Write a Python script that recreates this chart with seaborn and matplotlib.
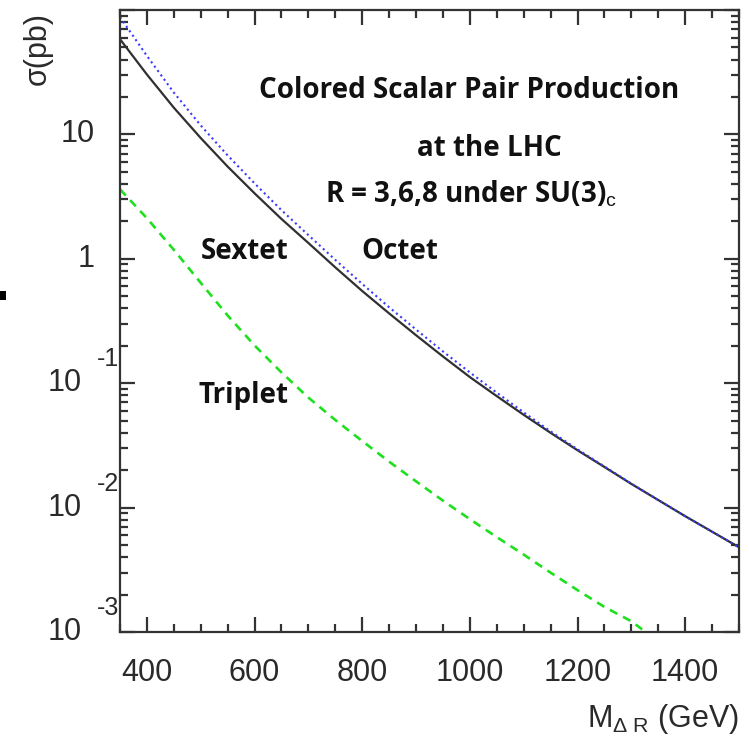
import numpy as np
import pandas as pd
import matplotlib
matplotlib.use("Agg")
import matplotlib.pyplot as plt
import seaborn as sns
from matplotlib.patches import Rectangle
from matplotlib.ticker import LogLocator, NullFormatter, MultipleLocator

# ---------------- data ----------------
mass = [350, 400, 450, 500, 550, 600, 650, 700, 750, 800, 850, 900,
        950, 1000, 1050, 1100, 1150, 1200, 1250, 1300, 1350, 1400, 1450, 1500]
sextet = [58.3, 30.3, 16.4, 9.35, 5.51, 3.36, 2.09, 1.34, 0.853, 0.551, 0.364,
          0.243, 0.164, 0.112, 0.0787, 0.0557, 0.0399, 0.0289, 0.0212, 0.0155,
          0.0115, 0.00853, 0.00640, 0.00480]
octet = [87.7, 42.8, 21.7, 11.8, 6.78, 4.04, 2.46, 1.55, 0.980, 0.628, 0.408,
         0.270, 0.180, 0.122, 0.0839, 0.0583, 0.0410, 0.0294, 0.0214, 0.0156,
         0.0115, 0.00853, 0.00640, 0.00480]
mass_triplet = [350, 400, 450, 500, 550, 600, 650, 700, 750, 800, 850, 900,
                950, 1000, 1050, 1100, 1150, 1200, 1250, 1300, 1320]
triplet = [3.62, 2.12, 1.18, 0.641, 0.350, 0.201, 0.122, 0.0766, 0.0506,
           0.0343, 0.0234, 0.01626, 0.01137, 0.00807, 0.00579, 0.00419,
           0.00300, 0.00217, 0.00159, 0.00122, 0.00105]

xticks = [400, 600, 800, 1000, 1200, 1400]
ytick_vals = [10, 1, 0.1, 0.01, 0.001]
ytick_base = ["10", "1", "10", "10", "10"]
ytick_exp = ["", "", "-1", "-2", "-3"]

title_lines = ["Colored Scalar Pair Production", "at the LHC",
               r"R = 3,6,8 under SU(3)$_\mathrm{c}$"]
curve_names = ["Sextet", "Octet", "Triplet"]

# ---------------- style ----------------
sns.set_style("ticks")
plt.rcParams["font.family"] = ["Liberation Sans", "DejaVu Sans"]
plt.rcParams["mathtext.fontset"] = "custom"
plt.rcParams["mathtext.rm"] = "Liberation Sans"
plt.rcParams["mathtext.it"] = "Liberation Sans:italic"
plt.rcParams["mathtext.bf"] = "Liberation Sans:bold"

W, H = 749, 740
fig = plt.figure(figsize=(W / 100, H / 100), dpi=100)
ax = fig.add_axes([120 / W, 1 - 632 / H, 619 / W, 622 / H])

df_s = pd.DataFrame({"m": mass, "sigma": sextet})
df_o = pd.DataFrame({"m": mass, "sigma": octet})
df_t = pd.DataFrame({"m": mass_triplet, "sigma": triplet})

sns.lineplot(data=df_s, x="m", y="sigma", ax=ax, color="#303030", lw=1.6,
             linestyle="-")
sns.lineplot(data=df_o, x="m", y="sigma", ax=ax, color="#3a3aff", lw=1.5,
             linestyle=(0, (1, 1.6)))
sns.lineplot(data=df_t, x="m", y="sigma", ax=ax, color="#1fe01f", lw=1.9,
             linestyle=(0, (3.2, 2.4)))

ax.set_yscale("log")
ax.set_xlim(350, 1500)
ax.set_ylim(1e-3, 1e2)

spine_c = "#333333"
for s in ax.spines.values():
    s.set_visible(True)
    s.set_linewidth(1.6)
    s.set_color(spine_c)

ax.set_xticks(xticks)
ax.xaxis.set_minor_locator(MultipleLocator(50))
ax.yaxis.set_major_locator(LogLocator(base=10, numticks=20))
ax.yaxis.set_minor_locator(LogLocator(base=10, subs=np.arange(2, 10), numticks=50))
ax.yaxis.set_minor_formatter(NullFormatter())
ax.set_yticklabels([])

ax.tick_params(which="both", direction="in", top=True, right=True,
               color=spine_c, width=1.6)
ax.tick_params(which="major", length=11)
ax.tick_params(which="minor", length=5.8)
ax.tick_params(axis="x", which="major", labelsize=22, pad=18.5,
               labelcolor="#2a2a2a")

# y tick labels: base "10" plus raised exponent, as in the original
for v, b, e in zip(ytick_vals, ytick_base, ytick_exp):
    off = -25 if e == "" else -38
    ax.annotate(b, xy=(0, v), xycoords=ax.get_yaxis_transform(),
                xytext=(off, 0), textcoords="offset pixels",
                ha="right", va="center", fontsize=22, color="#2a2a2a")
    if e:
        ax.annotate(e, xy=(0, v), xycoords=ax.get_yaxis_transform(),
                    xytext=(-12, 24), textcoords="offset pixels",
                    ha="center", va="center", fontsize=18, color="#2a2a2a")

ax.set_xlabel(r"M$_{\Delta\ \mathrm{R}}$ (GeV)", fontsize=22, color="#2a2a2a",
              loc="right")
ax.xaxis.label.set_va("baseline")
ax.xaxis.set_label_coords(1.0, (632 - 727) / 622)

ax.set_ylabel("σ(pb)", fontsize=22, color="#2a2a2a", loc="top")
ax.yaxis.label.set_va("center")
ax.yaxis.set_label_coords((38 - 120) / 619, 1.0 - 2 / 622)

tkw = dict(transform=ax.transAxes, ha="center", va="center",
           fontsize=20, fontweight="bold", color="#111111",
           family=["Open Sans", "DejaVu Sans"])
ax.text(0.564, 0.871, title_lines[0], **tkw)
ax.text(0.596, 0.778, title_lines[1], **tkw)
ax.text(0.567, 0.703, title_lines[2], **tkw)
ax.text(0.202, 0.6125, curve_names[0], **tkw)
ax.text(0.452, 0.6125, curve_names[1], **tkw)
ax.text(0.199, 0.381, curve_names[2], **tkw)

# small black mark at the left edge of the original picture
fig.add_artist(Rectangle((0, 1 - 300 / H), 6 / W, 9 / H,
                         transform=fig.transFigure, color="black", lw=0))

fig.savefig("out.png", dpi=100, facecolor="white")
